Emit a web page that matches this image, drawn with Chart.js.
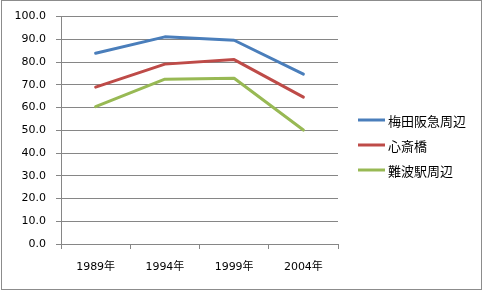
<!DOCTYPE html>
<html>
<head>
<meta charset="utf-8">
<script src="https://cdn.jsdelivr.net/npm/chart.js@4"></script>
<style>
  html, body { margin: 0; padding: 0; background: #fff; }
  #wrap { width: 483px; height: 291px; }
</style>
</head>
<body>
<div id="wrap"><canvas id="chart" width="483" height="291"></canvas></div>
<script>
// データ
const years = ['1989年', '1994年', '1999年', '2004年'];
const seriesNames = ['梅田阪急周辺', '心斎橋', '難波駅周辺'];
const umeda = [83.9, 91.1, 89.6, 74.7];
const shinsaibashi = [69.0, 79.1, 81.1, 64.6];
const namba = [60.4, 72.5, 72.9, 50.1];
const seriesColors = ['#4A7EBB', '#BE4B48', '#98B954'];

const gridColor = '#868686';
const tickFont = { family: "'DejaVu Sans', 'Noto Sans CJK JP'", size: 11 };

// 枠線と凡例
const frameAndLegend = {
  id: 'frameAndLegend',
  afterDraw(chart) {
    const ctx = chart.ctx;
    ctx.save();
    ctx.strokeStyle = '#8c8c8c';
    ctx.lineWidth = 1;
    ctx.strokeRect(1.5, 0.5, 480, 289);

    const x0 = 358, lineLen = 27, y0 = 120, gap = 25;
    ctx.font = "13px 'Noto Sans CJK JP'";
    ctx.textBaseline = 'middle';
    ctx.fillStyle = '#000';
    chart.data.datasets.forEach((ds, i) => {
      const y = y0 + i * gap;
      ctx.strokeStyle = ds.borderColor;
      ctx.lineWidth = 3;
      ctx.beginPath();
      ctx.moveTo(x0, y);
      ctx.lineTo(x0 + lineLen, y);
      ctx.stroke();
      ctx.fillText(ds.label, x0 + lineLen + 3, y + 1);
    });
    ctx.restore();
  }
};

const ctx = document.getElementById('chart').getContext('2d');

new Chart(ctx, {
  type: 'line',
  data: {
    labels: years,
    datasets: [umeda, shinsaibashi, namba].map((values, i) => ({
      label: seriesNames[i],
      data: values,
      borderColor: seriesColors[i],
      backgroundColor: seriesColors[i],
      borderWidth: 3,
      pointRadius: 0,
      tension: 0,
      borderCapStyle: 'round',
      borderJoinStyle: 'round'
    }))
  },
  options: {
    responsive: false,
    animation: false,
    layout: { padding: { top: 15, right: 145, left: 0, bottom: 0 } },
    plugins: {
      legend: { display: false },
      tooltip: { enabled: false }
    },
    scales: {
      x: {
        offset: true,
        afterFit(scale) { scale.height = 47; },
        grid: {
          offset: true,
          drawOnChartArea: false,
          drawTicks: true,
          tickLength: 5,
          color: gridColor
        },
        border: { color: gridColor, width: 1 },
        ticks: { font: tickFont, color: '#000', padding: 12, maxRotation: 0 }
      },
      y: {
        min: 0,
        max: 100,
        afterFit(scale) { scale.width = 61; },
        grid: {
          color: gridColor,
          drawTicks: true,
          tickLength: 5
        },
        border: { color: gridColor, width: 1 },
        ticks: {
          stepSize: 10,
          font: tickFont,
          color: '#000',
          padding: 10,
          callback: (v) => v.toFixed(1)
        }
      }
    }
  },
  plugins: [frameAndLegend]
});
</script>
</body>
</html>
